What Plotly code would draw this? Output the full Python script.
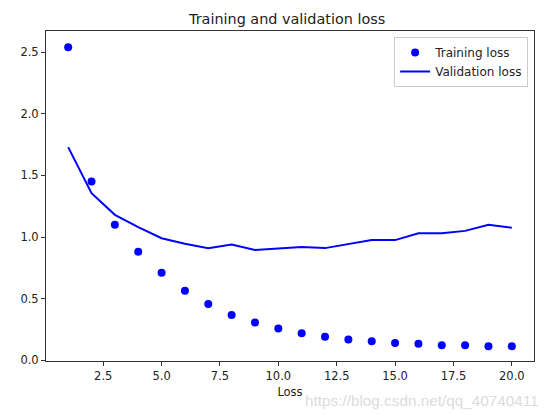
import plotly.graph_objects as go

epochs = list(range(1, 21))
training_loss = [2.54, 1.45, 1.10, 0.88, 0.71, 0.565, 0.457, 0.368, 0.306, 0.258,
                 0.22, 0.19, 0.168, 0.154, 0.141, 0.133, 0.122, 0.122, 0.114, 0.114]
validation_loss = [1.73, 1.356, 1.18, 1.08, 0.99, 0.945, 0.91, 0.94, 0.895, 0.91,
                   0.92, 0.91, 0.94, 0.975, 0.975, 1.03, 1.03, 1.05, 1.10, 1.075]
x_ticks = [2.5, 5.0, 7.5, 10.0, 12.5, 15.0, 17.5, 20.0]
y_ticks = [0.0, 0.5, 1.0, 1.5, 2.0, 2.5]

fig = go.Figure()
fig.add_trace(go.Scatter(x=epochs, y=training_loss, mode="markers", name="Training loss",
                         marker=dict(color="#0000ff", size=8)))
fig.add_trace(go.Scatter(x=epochs, y=validation_loss, mode="lines", name="Validation loss",
                         line=dict(color="#0000ff", width=2)))

axis_common = dict(showgrid=False, zeroline=False, showline=True, linecolor="#333333",
                   linewidth=1, mirror=True, ticks="outside", ticklen=4, tickcolor="#333333",
                   tickfont=dict(family="DejaVu Sans", size=11.5, color="#222222"))

fig.update_layout(
    width=543, height=407,
    margin=dict(l=34, r=17, t=23, b=54),
    paper_bgcolor="white", plot_bgcolor="white",
    font=dict(family="DejaVu Sans", color="#222222"),
    title=dict(text="Training and validation loss", x=0.514, xanchor="center",
               y=1 - 11/407, yanchor="middle", font=dict(size=14.4, color="#222222")),
    xaxis=dict(range=[0.05, 20.95], tickvals=x_ticks,
               ticktext=[f"{v:.1f}" for v in x_ticks],
               title=dict(text="Loss", font=dict(size=11.5), standoff=6), **axis_common),
    yaxis=dict(range=[-0.006, 2.672], tickvals=y_ticks,
               ticktext=[f"{v:.1f}" for v in y_ticks], **axis_common),
    legend=dict(x=0.988, y=0.982, xanchor="right", yanchor="top",
                bgcolor="white", bordercolor="#cccccc", borderwidth=1,
                font=dict(size=12, color="#222222"), tracegroupgap=0, itemwidth=30),
    showlegend=True,
)
fig.add_annotation(text="https://blog.csdn.net/qq_40740411", xref="paper", yref="paper",
                   x=1.014, y=-0.12, xanchor="right", yanchor="middle", showarrow=False,
                   font=dict(size=15.3, color="#dcdcdc", family="Liberation Sans"))

fig.write_html("out.html")
